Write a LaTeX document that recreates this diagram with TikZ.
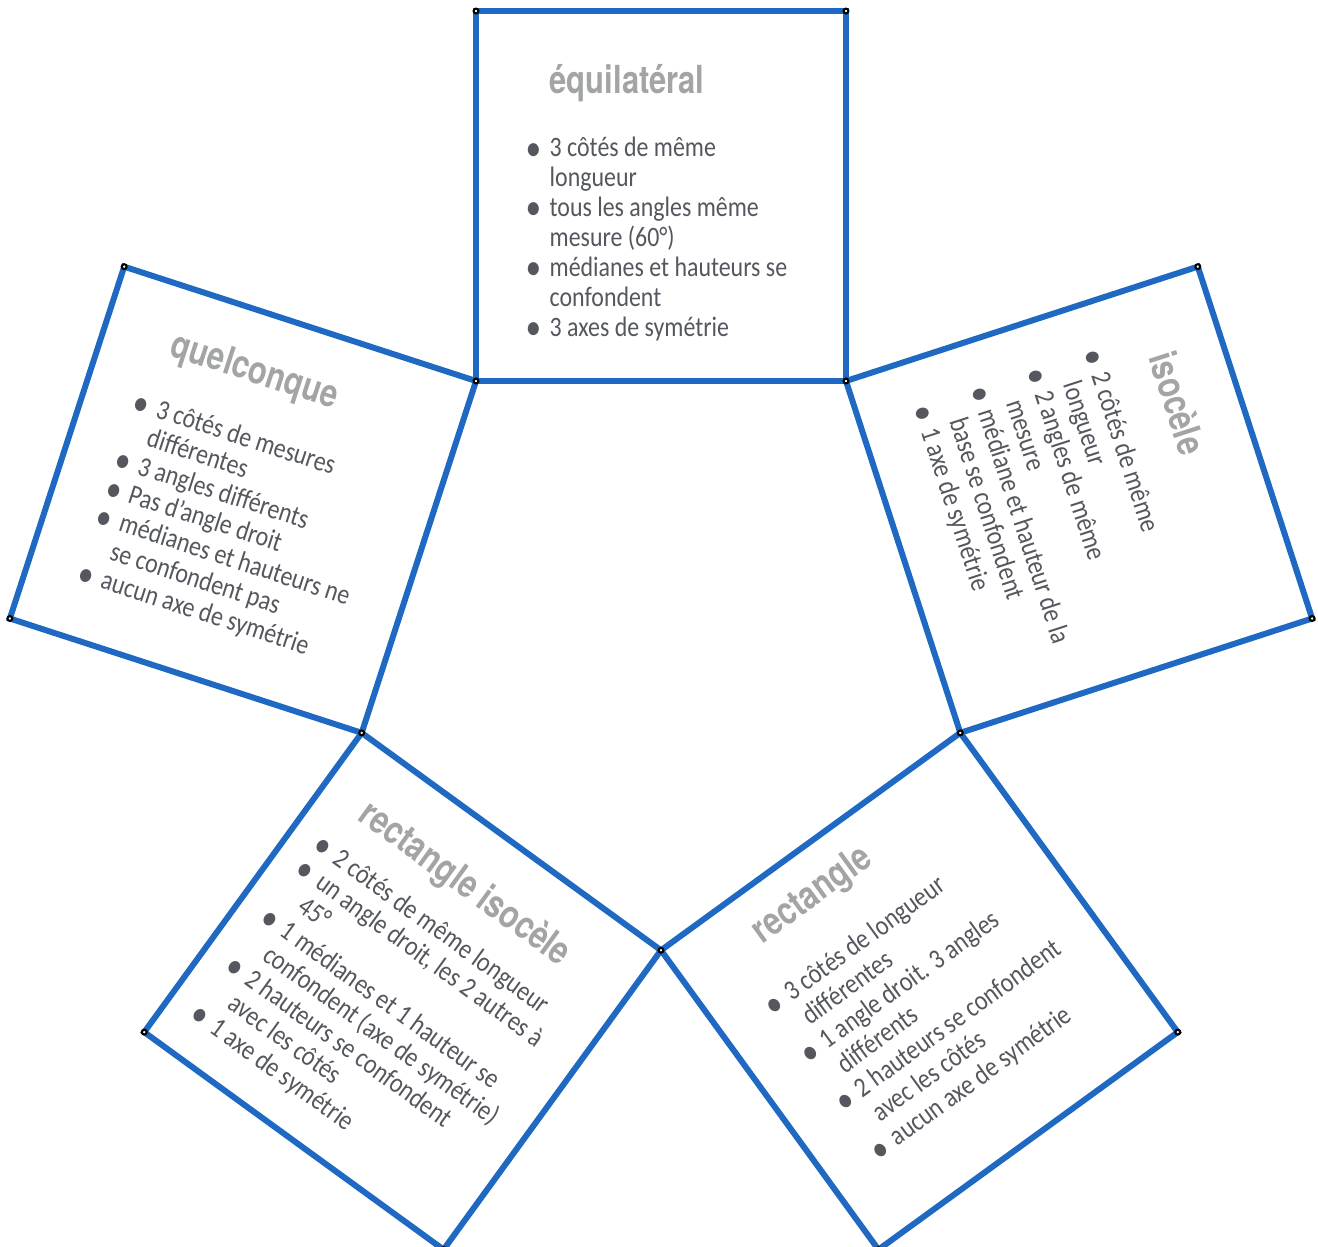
\documentclass[tikz,border=0pt]{standalone}
\usepackage{fontspec}
\newfontfamily\bodyfont{Carlito}[FakeStretch=0.85]
\newfontfamily\titlefont{TeX Gyre Heros}[FakeStretch=0.8]
\usetikzlibrary{calc}
\definecolor{sqblue}{RGB}{31,105,194}
\definecolor{txtgrey}{RGB}{84,87,94}
\definecolor{ttlgrey}{RGB}{162,165,164}
\newcommand{\itm}{\llap{\raisebox{-0.9pt}{\fontsize{10.5pt}{0pt}\selectfont\textbullet}\hspace{0.3em}}}
\newcommand{\lst}[1]{\begin{tabular}[t]{@{}l@{}}#1\end{tabular}}

\begin{document}
\begin{tikzpicture}[
  side/.style={draw=sqblue, line width=1.7pt, line join=miter},
  vtx/.style={draw=black, fill=white, line width=0.6pt},
  title/.style={anchor=base west, inner sep=0pt, text=ttlgrey,
                font=\titlefont\bfseries\fontsize{11pt}{13pt}\selectfont},
  items/.style={anchor=base west, inner sep=0pt, text=txtgrey,
                font=\bodyfont\fontsize{8pt}{8.5pt}\selectfont},
]
\useasboundingbox (0,0) rectangle (13.18,12.47);

% pentagon
\coordinate (O) at (6.61,6.114);
\foreach \a/\n in {54/B,126/A,198/E,270/D,342/C}
  \coordinate (\n) at ($(O)+(\a:3.147)$);

% one square on each side
\foreach \p/\q/\s in {B/A/t,A/E/l,E/D/bl,D/C/br,C/B/r} {
  \coordinate (\s1) at ($(\p)!1!-90:(\q)$);
  \coordinate (\s2) at ($(\q)!1!90:(\p)$);
  \draw[side] (\p) -- (\q) -- (\s2) -- (\s1) -- cycle;
}
\foreach \n in {A,B,C,D,E,t1,t2,l1,l2,bl1,bl2,br1,br2,r1,r2}
  \draw[vtx] (\n) circle (0.024);

% top
\node[title] (ttl-eq) at (5.49,11.53) {équilatéral};
\node[items] (lst-eq) at (5.49,10.90)
  {\lst{\itm 3 côtés de même\\ longueur\\ \itm tous les angles même\\ mesure (60°)\\
   \itm médianes et hauteurs se\\ confondent\\ \itm 3 axes de symétrie}};

% left
\node[title, rotate=-18] (ttl-qc) at (1.68,8.92) {quelconque};
\node[items, rotate=-18] (lst-qc) at (1.54,8.30)
  {\lst{\itm 3 côtés de mesures\\ différentes\\ \itm 3 angles différents\\ \itm Pas d’angle droit\\
   \itm médianes et hauteurs ne\\ se confondent pas\\ \itm aucun axe de symétrie}};

% right
\node[title, rotate=-72] (ttl-is) at (11.48,8.90) {isocèle};
\node[items, rotate=-72] (lst-is) at (10.91,8.72)
  {\lst{\itm 2 côtés de même\\ longueur\\ \itm 2 angles de même\\ mesure\\
   \itm médiane et hauteur de la\\ base se confondent\\ \itm 1 axe de symétrie}};

% bottom left
\node[title, rotate=-36] (ttl-ri) at (3.56,4.28) {rectangle isocèle};
\node[items, rotate=-36] (lst-ri) at (3.31,3.85)
  {\lst{\itm 2 côtés de même longueur\\ \itm un angle droit, les 2 autres à\\ 45°\\
   \itm 1 médianes et 1 hauteur se\\ confondent (axe de symétrie)\\
   \itm 2 hauteurs se confondent\\ avec les côtés\\ \itm 1 axe de symétrie}};

% bottom right
\node[title, rotate=36] (ttl-re) at (7.62,3.02) {rectangle};
\node[items, rotate=36] (lst-re) at (7.92,2.45)
  {\lst{\itm 3 côtés de longueur\\ différentes\\ \itm 1 angle droit. 3 angles\\ différents\\
   \itm 2 hauteurs se confondent\\ avec les côtés\\ \itm aucun axe de symétrie}};
\end{tikzpicture}
\end{document}
